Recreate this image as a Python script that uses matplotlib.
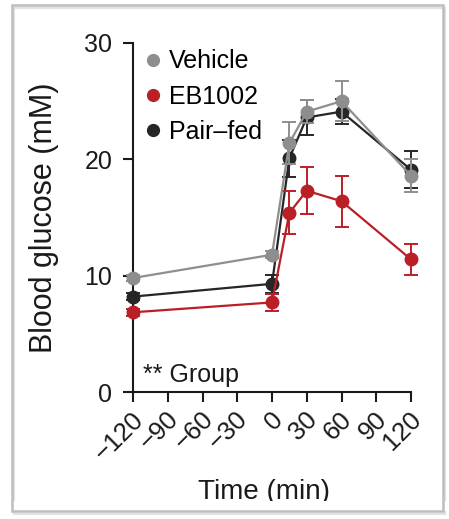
import matplotlib
matplotlib.use("Agg")
import matplotlib.pyplot as plt
import matplotlib.transforms as mtransforms
from matplotlib.patches import Rectangle
from matplotlib.lines import Line2D

plt.rcParams['font.family'] = ['Liberation Sans', 'DejaVu Sans']

# glucose tolerance test, mean +/- SEM
time_min = [-120, 0, 15, 30, 60, 120]

vehicle = [9.8, 11.8, 21.4, 24.1, 25.0, 18.6]
vehicle_err = [0.3, 0.3, 1.8, 1.0, 1.7, 1.4]

eb1002 = [6.85, 7.7, 15.4, 17.3, 16.4, 11.4]
eb1002_err = [0.3, 0.7, 1.85, 2.0, 2.2, 1.35]

pair_fed = [8.2, 9.3, 20.1, 23.6, 24.1, 19.1]
pair_fed_err = [0.3, 0.8, 1.6, 1.5, 1.1, 1.6]

groups = ['Vehicle', 'EB1002', 'Pair\u2013fed']
colors = ['#8e8e8e', '#bb1f26', '#262626']
x_ticks = [-120, -90, -60, -30, 0, 30, 60, 90, 120]
y_ticks = [0, 10, 20, 30]

W, H = 449, 519
fig = plt.figure(figsize=(W / 100, H / 100), dpi=100)
ax = fig.add_axes([133 / W, 1 - 392 / H, 278 / W, 349 / H])

series = [(pair_fed, pair_fed_err, colors[2]),
          (eb1002, eb1002_err, colors[1]),
          (vehicle, vehicle_err, colors[0])]
for z, (vals, errs, c) in enumerate(series):
    ax.errorbar(time_min, vals, yerr=errs, color=c, lw=1.6, marker='o', ms=9,
                mec=c, capsize=5, capthick=1.4, elinewidth=1.4,
                clip_on=False, zorder=3 + z)

ax.set_xlim(-120, 120)
ax.set_ylim(0, 30)
ax.set_xticks(x_ticks)
ax.set_yticks(y_ticks)
ax.set_xticklabels([str(t).replace('-', '\u2212') for t in x_ticks])

for s in ['top', 'right']:
    ax.spines[s].set_visible(False)
for s in ['left', 'bottom']:
    ax.spines[s].set_linewidth(1.5)
    ax.spines[s].set_color('#1a1a1a')

ax.tick_params(axis='both', length=7, width=1.5, color='#1a1a1a',
               labelsize=18, labelcolor='#1a1a1a')
ax.tick_params(axis='y', pad=8)
ax.tick_params(axis='x', pad=10, labelsize=18.5)
shift = mtransforms.ScaledTranslation(5 / 72, 0, fig.dpi_scale_trans)
for lab in ax.get_xticklabels():
    lab.set_rotation(45)
    lab.set_ha('right')
    lab.set_va('center')
    lab.set_rotation_mode('anchor')
    lab.set_transform(lab.get_transform() + shift)

ax.set_ylabel('Blood glucose (mM)', fontsize=22, color='#1a1a1a')
ax.yaxis.set_label_coords(-0.265, 0.5)
ax.set_xlabel('Time (min)', fontsize=20, color='#1a1a1a', va='top')
ax.xaxis.set_label_coords(0.47, -0.25)

handles = [Line2D([], [], ls='none', marker='o', ms=8.5, color=c) for c in colors]
ax.legend(handles, groups, loc='upper left', bbox_to_anchor=(-0.01, 1.025),
          frameon=False, fontsize=18, handlelength=0.6, handletextpad=0.35,
          labelspacing=0.45, borderaxespad=0.2)

ax.text(-111, 0.9, '** Group', fontsize=18, color='#1a1a1a', va='baseline')

# cropped bottom edge and picture frame
fig.patches.append(Rectangle((0, 1 - 511 / H), 1, 10 / H, transform=fig.transFigure,
                             facecolor='white', edgecolor='none', zorder=10))
fig.patches.append(Rectangle((12 / W, 1 - 511 / H), 431 / W, 506 / H,
                             transform=fig.transFigure, facecolor='none',
                             edgecolor='#bdbdbd', lw=1.8, zorder=11))
fig.patches.append(Rectangle((14 / W, 1 - 514 / H), 431 / W, 506 / H,
                             transform=fig.transFigure, facecolor='none',
                             edgecolor='#e2e2e2', lw=1.5, zorder=9))

fig.savefig('out.png', dpi=100)
